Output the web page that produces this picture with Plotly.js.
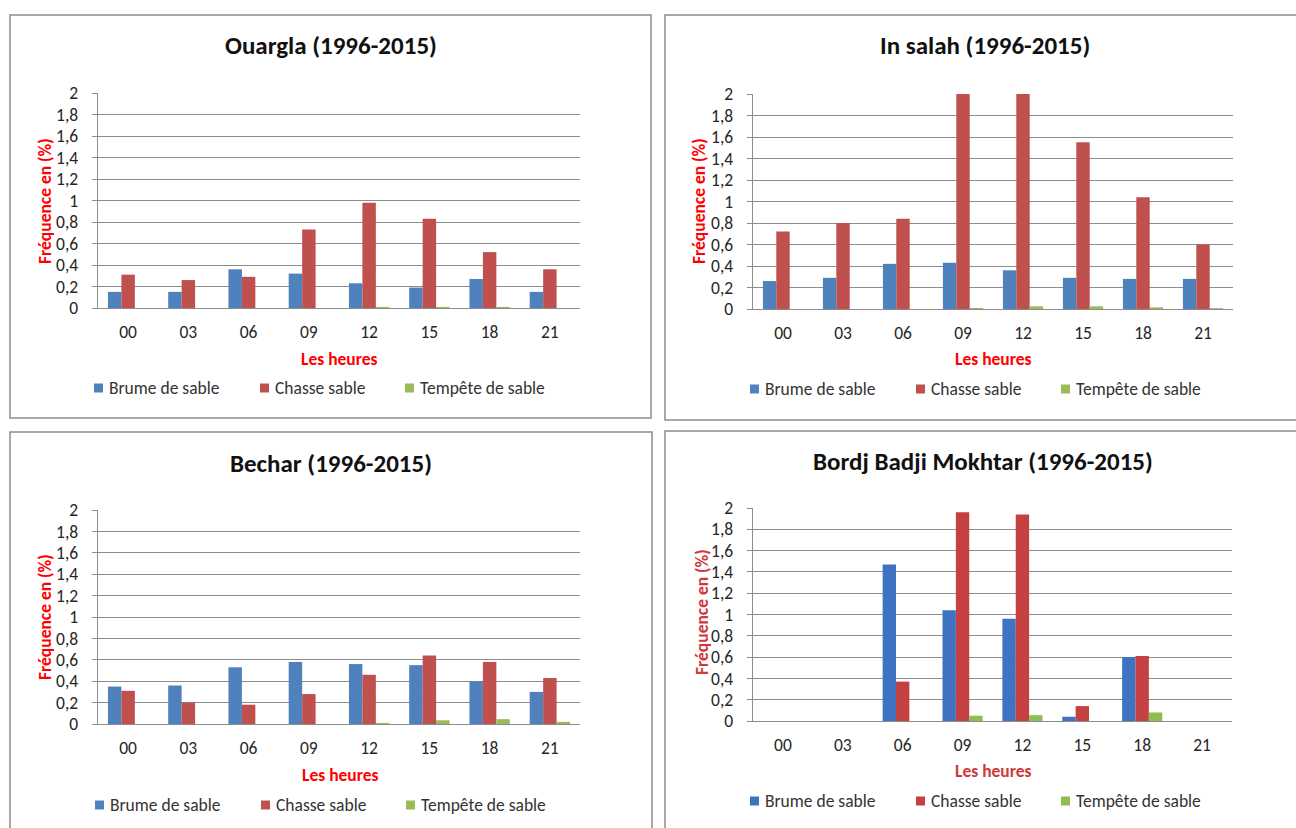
<!DOCTYPE html>
<html>
<head>
<meta charset="utf-8">
<script src="https://cdn.plot.ly/plotly-3.0.1.min.js"></script>
<style>
html,body{margin:0;padding:0;background:#fff;}
#chart{width:1296px;height:828px;}
</style>
</head>
<body>
<div id="chart"></div>
<script>
// ---- data ----
const hours = ['00','03','06','09','12','15','18','21'];
const seriesNames = ['Brume de sable','Chasse sable','Tempête de sable'];
const stationTitles = ['Ouargla (1996-2015)','In salah (1996-2015)','Bechar (1996-2015)','Bordj Badji Mokhtar (1996-2015)'];
const yTitle = 'Fréquence en (%)';
const xTitle = 'Les heures';

const ouarglaBrume   = [0.15,0.15,0.36,0.32,0.23,0.19,0.27,0.15];
const ouarglaChasse  = [0.31,0.26,0.29,0.73,0.98,0.83,0.52,0.36];
const ouarglaTempete = [0,0,0,0,0.01,0.01,0.01,0];

const inSalahBrume   = [0.26,0.29,0.42,0.43,0.36,0.29,0.28,0.28];
const inSalahChasse  = [0.72,0.80,0.84,2.0,2.0,1.55,1.04,0.60];
const inSalahTempete = [0,0,0,0.01,0.025,0.025,0.015,0.008];

const becharBrume    = [0.35,0.36,0.53,0.58,0.56,0.55,0.40,0.30];
const becharChasse   = [0.31,0.20,0.18,0.28,0.46,0.64,0.58,0.43];
const becharTempete  = [0,0,0,0,0.01,0.035,0.045,0.02];

const bbmBrume       = [0,0,1.47,1.04,0.96,0.04,0.60,0];
const bbmChasse      = [0,0,0.37,1.96,1.94,0.14,0.61,0];
const bbmTempete     = [0,0,0,0.05,0.055,0,0.08,0];

// ---- layout helpers ----
const W = 1296, H = 828;
const px = x => x / W;
const py = y => 1 - y / H;
const FONT = 'Carlito, Lato, sans-serif';
const TICK = 17.5;

const panelData = [
  [ouarglaBrume, ouarglaChasse, ouarglaTempete],
  [inSalahBrume, inSalahChasse, inSalahTempete],
  [becharBrume, becharChasse, becharTempete],
  [bbmBrume, bbmChasse, bbmTempete]
];
const colorsStd = ['#4F81BD','#C0504D','#9BBB59'];
const colorsBbm = ['#3E73C2','#C54141','#8DBE4F'];

// geometry (pixels) of each panel
const geo = [
  {box:[10,15,651,418], plot:[98,93,580,308], title:[331,45], yt:[45,201], xt:[339,359], leg:[94,388], ytc:'#FF0000'},
  {box:[665,15,1300,420], plot:[753,94,1233,309], title:[985,45], yt:[699,201], xt:[993,359], leg:[750,389], ytc:'#FF0000'},
  {box:[10,432,652,840], plot:[98,510,580,724], title:[331,463], yt:[45,617], xt:[340,775], leg:[95,805], ytc:'#FF0000'},
  {box:[665,431,1300,840], plot:[753,508,1232,721], title:[983,461], yt:[702,612], xt:[993,771], leg:[750,801], ytc:'#D0383A'}
];
const legendOffsets = [0, 166, 311];

const traces = [];
const layout = {
  width: W, height: H, autosize: false,
  margin: {l:0, r:0, t:0, b:0},
  paper_bgcolor: '#fff', plot_bgcolor: 'rgba(0,0,0,0)',
  separators: ', ',
  barmode: 'group', bargap: 0.33, bargroupgap: 0,
  font: {family: FONT, size: TICK, color: '#333'},
  shapes: [], annotations: [], showlegend: false
};

geo.forEach((g, i) => {
  const n = i === 0 ? '' : String(i + 1);
  const xa = 'x' + n, ya = 'y' + n;
  const cols = i === 3 ? colorsBbm : colorsStd;
  panelData[i].forEach((vals, s) => {
    traces.push({
      type: 'bar', x: hours, y: vals, name: seriesNames[s],
      xaxis: xa, yaxis: ya,
      marker: {color: cols[s], line: {width: 0}},
      hoverinfo: 'y'
    });
    // legend entry: square + label
    const sx = g.leg[0] + legendOffsets[s];
    layout.shapes.push({
      type: 'rect', xref: 'paper', yref: 'paper',
      x0: px(sx), x1: px(sx + 9), y0: py(g.leg[1] + 4.5), y1: py(g.leg[1] - 4.5),
      line: {width: 0}, fillcolor: cols[s]
    });
    layout.annotations.push({
      text: seriesNames[s], xref: 'paper', yref: 'paper',
      x: px(sx + 13), y: py(g.leg[1]), xanchor: 'left', yanchor: 'middle',
      showarrow: false, font: {family: FONT, size: TICK, color: '#333'}
    });
  });
  layout['xaxis' + n] = {
    domain: [px(g.plot[0]), px(g.plot[2])], anchor: ya, type: 'category',
    showline: true, linecolor: '#8C8C8C', linewidth: 1.3,
    showgrid: false, ticks: '', ticklabelstandoff: 8,
    tickfont: {family: FONT, size: TICK, color: '#262626'}, fixedrange: true
  };
  layout['yaxis' + n] = {
    domain: [py(g.plot[3]), py(g.plot[1])], anchor: xa,
    range: [0, 2], dtick: 0.2, tick0: 0,
    showline: true, linecolor: '#8C8C8C', linewidth: 1.3,
    showgrid: true, gridcolor: '#8C8C8C', gridwidth: 1,
    zeroline: false, ticks: 'outside', ticklen: 5, tickcolor: '#8C8C8C',
    ticklabelstandoff: 10,
    tickfont: {family: FONT, size: TICK, color: '#262626'}, fixedrange: true
  };
  layout.shapes.push({
    type: 'rect', xref: 'paper', yref: 'paper',
    x0: px(g.box[0]), x1: px(g.box[2]), y0: py(g.box[3]), y1: py(g.box[1]),
    line: {color: '#8C8C8C', width: 1.5}, fillcolor: 'rgba(0,0,0,0)', layer: 'below'
  });
  layout.annotations.push({
    text: '<b>' + stationTitles[i] + '</b>', xref: 'paper', yref: 'paper',
    x: px(g.title[0]), y: py(g.title[1]), xanchor: 'center', yanchor: 'middle',
    showarrow: false, font: {family: FONT, size: 25, color: '#111'}
  });
  layout.annotations.push({
    text: '<b>' + yTitle + '</b>', xref: 'paper', yref: 'paper', textangle: -90,
    x: px(g.yt[0]), y: py(g.yt[1]), xanchor: 'center', yanchor: 'middle',
    showarrow: false, font: {family: FONT, size: 17.5, color: g.ytc}
  });
  layout.annotations.push({
    text: '<b>' + xTitle + '</b>', xref: 'paper', yref: 'paper',
    x: px(g.xt[0]), y: py(g.xt[1]), xanchor: 'center', yanchor: 'middle',
    showarrow: false, font: {family: FONT, size: 17.5, color: g.ytc}
  });
});

Plotly.newPlot('chart', traces, layout, {displayModeBar: false, staticPlot: true});
</script>
</body>
</html>
